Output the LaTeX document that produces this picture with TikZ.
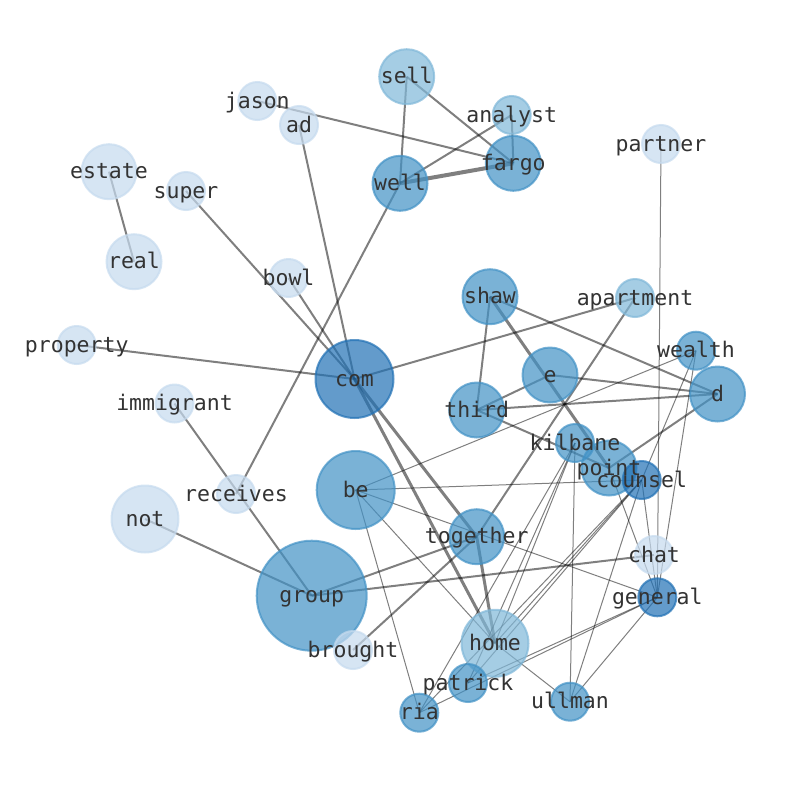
\documentclass[tikz,border=0pt]{standalone}
\usepackage{fontspec}
\setmonofont{DejaVu Sans Mono}
\pgfdeclarelayer{bglayer}
\pgfdeclarelayer{edgelayer}
\pgfsetlayers{bglayer,edgelayer,main}
\definecolor{cL}{HTML}{C6DBEF}
\definecolor{cML}{HTML}{80B8D9}
\definecolor{cM}{HTML}{4292C6}
\definecolor{cD}{HTML}{2171B5}
\definecolor{txt}{HTML}{333333}
\tikzset{
  gn/.style={circle, inner sep=0pt, outer sep=0pt, line width=2pt, fill opacity=0.7, draw opacity=0.7},
  lbl/.style={inner sep=0pt, text=txt, font=\ttfamily\fontsize{21.5}{26}\selectfont, text height=0.76em, text depth=0.24em, anchor=center, yshift=-4.5pt},
  ethin/.style={draw=black, draw opacity=0.5, line width=1pt},
  emed/.style={draw=black, draw opacity=0.5, line width=2pt},
  ethick/.style={draw=black, draw opacity=0.5, line width=3pt},
  ebig/.style={draw=black, draw opacity=0.5, line width=4pt}
}
\newcommand\gnode[5]{\node[gn, minimum size=#4pt, fill=#5, draw=#5] (#1) at (#2,#3) {};}
\newcommand\glabel[1]{\node[lbl] (l#1) at (#1.center) {#1};}
\begin{document}
\begin{tikzpicture}[x=1pt, y=-1pt]
\begin{pgfonlayer}{bglayer}
\fill[white] (0,0) rectangle (794,790);
\end{pgfonlayer}
\useasboundingbox (0,0) rectangle (794,790);
% nodes
\gnode{sell}{406.7}{76.7}{55}{cML}
\gnode{jason}{257.3}{101}{38}{cL}
\gnode{ad}{299}{125}{38}{cL}
\gnode{analyst}{511.7}{115}{38}{cML}
\gnode{fargo}{513.3}{163.3}{55}{cM}
\gnode{partner}{661}{144}{38}{cL}
\gnode{well}{400}{183.3}{55}{cM}
\gnode{estate}{109}{171.7}{55}{cL}
\gnode{super}{186}{191}{38}{cL}
\gnode{real}{134}{261.7}{55}{cL}
\gnode{bowl}{288.5}{278}{38}{cL}
\gnode{shaw}{490}{296.7}{55}{cM}
\gnode{apartment}{635}{298}{38}{cML}
\gnode{property}{76.7}{345}{38}{cL}
\gnode{com}{354.5}{379}{78}{cD}
\gnode{e}{550}{375}{55}{cM}
\gnode{wealth}{696}{350.7}{38}{cM}
\gnode{d}{717.5}{394}{55}{cM}
\gnode{immigrant}{174.5}{403.5}{38}{cL}
\gnode{third}{476.7}{410}{55}{cM}
\gnode{point}{609}{468}{55}{cM}
\gnode{kilbane}{575}{443}{38}{cM}
\gnode{counsel}{641.7}{480}{38}{cD}
\gnode{receives}{236}{494}{38}{cL}
\gnode{be}{355.7}{490}{78}{cM}
\gnode{not}{145}{519}{67}{cL}
\gnode{together}{476.7}{536.7}{55}{cM}
\gnode{chat}{654}{555}{38}{cL}
\gnode{group}{311.7}{595.7}{110}{cM}
\gnode{general}{657.3}{597.3}{38}{cD}
\gnode{brought}{353}{650}{38}{cL}
\gnode{home}{495}{643.3}{67}{cML}
\gnode{patrick}{468}{683}{38}{cM}
\gnode{ria}{419.3}{712.7}{38}{cM}
\gnode{ullman}{570}{701.7}{38}{cM}
% edges
\begin{pgfonlayer}{edgelayer}
\foreach \a/\b in {estate/real, super/com, bowl/com, ad/com, property/com, com/apartment,
  well/receives, immigrant/group, not/group, group/together, group/chat, brought/together,
  apartment/together, jason/fargo, sell/well, sell/fargo, analyst/well, analyst/fargo,
  shaw/third, shaw/d, e/third, e/d, third/d, third/point, d/point}
  {\draw[emed] (\a.center) -- (\b.center);}
\foreach \a/\b in {com/together, com/home, together/home, shaw/point}
  {\draw[ethick] (\a.center) -- (\b.center);}
\draw[ebig] (well.center) -- (fargo.center);
\foreach \a/\b in {be/wealth, be/counsel, be/general, be/home, be/ria, partner/general,
  kilbane/ullman, kilbane/home, kilbane/patrick, kilbane/ria, counsel/home, counsel/patrick,
  counsel/ria, counsel/general, counsel/ullman, general/ullman, general/ria, general/patrick,
  home/ullman, wealth/counsel, wealth/general, point/general}
  {\draw[ethin] (\a.center) -- (\b.center);}
\end{pgfonlayer}
% labels
\foreach \n in {sell, jason, ad, analyst, fargo, partner, well, estate, super, real, bowl, shaw,
  apartment, property, com, e, wealth, d, immigrant, third, kilbane, point, counsel, receives,
  be, not, together, chat, group, general, brought, home, patrick, ria, ullman}
  {\glabel{\n}}
\end{tikzpicture}
\end{document}
